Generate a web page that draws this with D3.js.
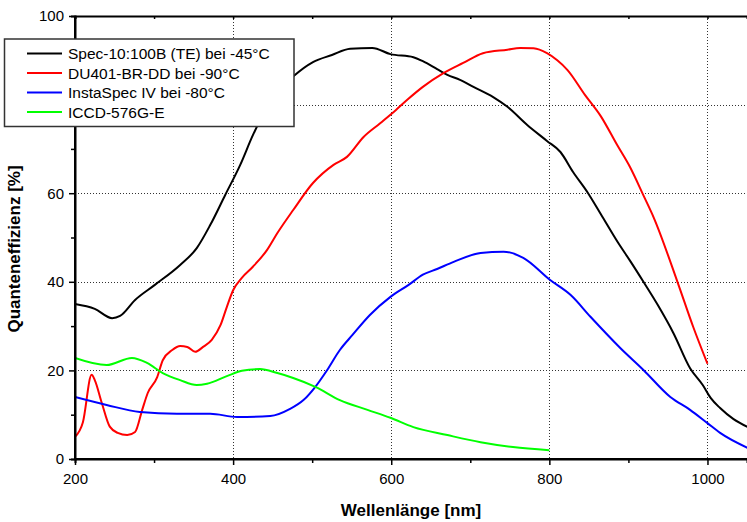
<!DOCTYPE html>
<html>
<head>
<meta charset="utf-8">
<script src="https://cdn.jsdelivr.net/npm/d3@7"></script>
<style>
  html, body { margin: 0; padding: 0; background: #fff; }
  svg { display: block; font-family: "Liberation Sans", Arial, sans-serif; }
</style>
</head>
<body>
<svg id="chart" width="747" height="522"></svg>
<script>
// Quantum efficiency curves, wavelength [nm] vs. QE [%]
const seriesNames = [
  "Spec-10:100B (TE) bei -45°C",
  "DU401-BR-DD bei -90°C",
  "InstaSpec IV bei -80°C",
  "ICCD-576G-E"
];
const seriesColors = ["#000000", "#ff0000", "#0000ff", "#00ff00"];

const spec10 = [
  [200, 35.0], [225, 33.9], [247, 31.8], [257, 32.3], [276, 35.9], [301, 39.3],
  [333, 43.8], [354, 47.6], [371, 52.8], [390, 59.6], [409, 66.4], [425, 73.1],
  [441, 78.8], [460, 83.5], [477, 86.5], [501, 89.6], [525, 91.2], [548, 92.6],
  [576, 92.8], [599, 91.4], [628, 90.7], [640, 89.8], [658, 88.0], [671, 86.7],
  [687, 85.6], [704, 84.0], [729, 81.7], [747, 79.5], [772, 75.4], [797, 71.8],
  [814, 69.3], [830, 64.8], [849, 60.0], [865, 55.3], [887, 48.8], [903, 44.5],
  [919, 40.0], [937, 34.8], [957, 28.4], [978, 20.5], [994, 16.7], [1004, 13.8],
  [1016, 11.5], [1033, 9.0], [1051, 7.2]
];
const du401 = [
  [200, 5.0], [210, 8.3], [221, 19.0], [225, 17.8], [234, 12.6], [244, 7.3],
  [254, 5.9], [266, 5.4], [276, 6.1], [285, 11.1], [292, 14.9], [304, 18.5],
  [311, 22.3], [323, 24.6], [333, 25.5], [342, 25.3], [352, 24.2], [362, 25.3],
  [373, 26.9], [384, 30.2], [392, 34.3], [400, 38.1], [411, 40.9], [425, 43.4],
  [443, 47.2], [456, 51.0], [476, 56.2], [501, 62.3], [527, 66.4], [544, 68.2],
  [565, 72.7], [586, 75.8], [606, 78.8], [621, 81.2], [640, 84.0], [666, 87.1],
  [691, 89.4], [716, 91.6], [747, 92.4], [763, 92.8], [780, 92.7], [797, 91.6],
  [810, 90.0], [823, 87.8], [845, 82.2], [865, 77.4], [886, 70.8], [902, 65.9],
  [919, 59.5], [932, 54.5], [962, 40.0], [982, 29.8], [1000, 21.5]
];
const instaSpec = [
  [200, 14.0], [240, 12.2], [282, 10.6], [329, 10.2], [371, 10.2], [405, 9.5],
  [447, 9.7], [472, 11.3], [489, 13.3], [504, 16.3], [519, 20.1], [535, 24.6],
  [551, 28.0], [573, 32.5], [599, 36.6], [622, 39.3], [640, 41.6], [658, 42.9],
  [679, 44.5], [713, 46.5], [742, 46.8], [767, 45.4], [801, 40.4], [827, 37.0],
  [852, 32.1], [890, 25.0], [919, 20.1], [953, 14.0], [978, 11.1], [1000, 8.1],
  [1016, 5.9], [1051, 2.5]
];
const iccd = [
  [200, 22.8], [240, 21.2], [272, 22.8], [291, 21.7], [311, 19.4], [333, 17.8],
  [354, 16.7], [367, 17.0], [392, 18.7], [411, 19.9], [434, 20.3], [456, 19.4],
  [476, 18.3], [504, 16.3], [535, 13.3], [570, 11.1], [599, 9.3], [628, 7.2],
  [671, 5.4], [713, 3.8], [754, 2.7], [800, 2.0]
];
const seriesData = [spec10, du401, instaSpec, iccd];

const xTicks = [200, 400, 600, 800, 1000];
const xMinor = [300, 500, 700, 900];
const yTicks = [0, 20, 40, 60, 80, 100];
const yMinor = [10, 30, 50, 70, 90];
const xTitle = "Wellenlänge [nm]";
const yTitle = "Quanteneffizienz [%]";

const svg = d3.select("#chart");
const plotLeft = 75, plotRight = 747, plotTop = 16, plotBottom = 459;

const x = d3.scaleLinear().domain([200, 1050]).range([plotLeft, plotRight]);
const y = d3.scaleLinear().domain([0, 100]).range([plotBottom, plotTop]);

// dotted grid
const grid = svg.append("g").attr("stroke", "#333").attr("stroke-width", 1)
  .attr("stroke-dasharray", "1,2");
xTicks.filter(d => d > 200).forEach(d => {
  grid.append("line").attr("x1", Math.round(x(d)) + 0.5).attr("x2", Math.round(x(d)) + 0.5)
    .attr("y1", plotTop).attr("y2", plotBottom);
});
yTicks.filter(d => d > 0 && d < 100).forEach(d => {
  grid.append("line").attr("y1", Math.round(y(d)) + 0.5).attr("y2", Math.round(y(d)) + 0.5)
    .attr("x1", plotLeft).attr("x2", plotRight);
});

// curves
svg.append("clipPath").attr("id", "plotclip").append("rect")
  .attr("x", plotLeft).attr("y", plotTop)
  .attr("width", plotRight - plotLeft).attr("height", plotBottom - plotTop);
const line = d3.line().x(d => x(d[0])).y(d => y(d[1])).curve(d3.curveMonotoneX);
const curves = svg.append("g").attr("clip-path", "url(#plotclip)");
seriesData.forEach((s, i) => {
  curves.append("path").datum(s).attr("d", line)
    .attr("fill", "none").attr("stroke", seriesColors[i]).attr("stroke-width", 2)
    .attr("stroke-linejoin", "round");
});

// axes
const fontSize = 15;
const xAxis = d3.axisBottom(x).tickValues(xTicks).tickSize(6).tickPadding(8).tickFormat(d3.format("d"));
const gx = svg.append("g").attr("transform", `translate(0,${plotBottom})`).call(xAxis);
const xAxisMinor = d3.axisBottom(x).tickValues(xMinor).tickSize(4).tickFormat("");
svg.append("g").attr("transform", `translate(0,${plotBottom})`).call(xAxisMinor);

const yAxis = d3.axisLeft(y).tickValues(yTicks).tickSize(6).tickPadding(5).tickFormat(d3.format("d"));
const gy = svg.append("g").attr("transform", `translate(${plotLeft},0)`).call(yAxis);
const yAxisMinor = d3.axisLeft(y).tickValues(yMinor).tickSize(4).tickFormat("");
svg.append("g").attr("transform", `translate(${plotLeft},0)`).call(yAxisMinor);

// top frame with small inward ticks
const topAxis = d3.axisBottom(x).tickValues(xTicks.concat(xMinor)).tickSize(3).tickFormat("");
svg.append("g").attr("transform", `translate(0,${plotTop})`).call(topAxis);

svg.selectAll(".domain").attr("stroke", "#000").attr("stroke-width", 2);
svg.selectAll(".tick line").attr("stroke", "#000").attr("stroke-width", 1.5);
svg.selectAll(".tick text").attr("font-size", fontSize).attr("fill", "#000")
  .attr("font-family", "'Liberation Sans', Arial, sans-serif");
gx.select(".domain").attr("d", `M${plotLeft},0H${plotRight}`);
gy.select(".domain").attr("d", `M0,${plotBottom}V${plotTop}`);

// axis titles
svg.append("text").attr("x", 411).attr("y", 516).attr("text-anchor", "middle")
  .attr("font-size", 17).attr("font-weight", "bold").text(xTitle);
svg.append("text").attr("transform", `translate(20,249) rotate(-90)`).attr("text-anchor", "middle")
  .attr("font-size", 17).attr("font-weight", "bold").text(yTitle);

// legend
const lg = svg.append("g");
lg.append("rect").attr("x", 4.5).attr("y", 39).attr("width", 289.5).attr("height", 87.5)
  .attr("fill", "#fff").attr("stroke", "#333").attr("stroke-width", 1.5);
seriesNames.forEach((name, i) => {
  const yy = 53.5 + i * 19.5;
  lg.append("line").attr("x1", 27).attr("x2", 62).attr("y1", yy).attr("y2", yy)
    .attr("stroke", seriesColors[i]).attr("stroke-width", 2);
  lg.append("text").attr("x", 68).attr("y", yy + 5.5).attr("font-size", 15.5)
    .attr("fill", "#000").text(name);
});
</script>
</body>
</html>
